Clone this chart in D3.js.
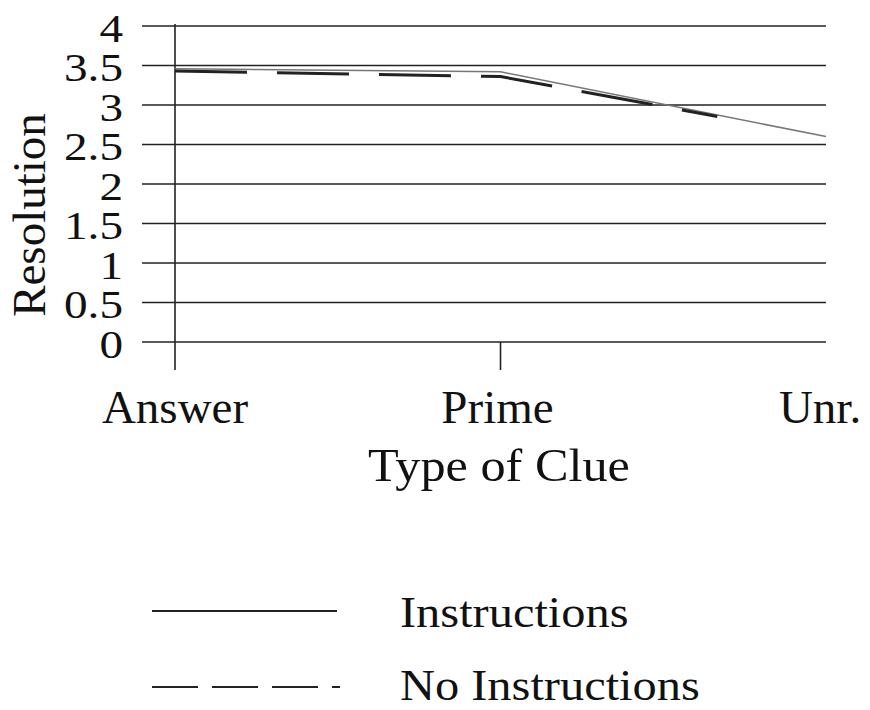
<!DOCTYPE html>
<html>
<head>
<meta charset="utf-8">
<script src="https://cdn.jsdelivr.net/npm/d3@7"></script>
<style>
  body { margin: 0; background: #fff; }
  text { font-family: "Liberation Serif", "Times New Roman", serif; fill: #111; }
</style>
</head>
<body>
<svg id="chart" width="870" height="710"></svg>
<script>
// categories and series
var clueTypes = ["Answer", "Prime", "Unr."];
var instructions = [3.46, 3.42, 2.6];
var noInstructions = [3.43, 3.36, 2.6];
var yTicks = [0, 0.5, 1, 1.5, 2, 2.5, 3, 3.5, 4];
var seriesNames = ["Instructions", "No Instructions"];

var svg = d3.select("#chart");

var x = d3.scalePoint()
  .domain(clueTypes)
  .range([175, 826]);

var y = d3.scaleLinear()
  .domain([0, 4])
  .range([342, 26]);

// the source picture is a bit wider than tall, so stretch text sideways
function stretched(sel, sx) {
  return function(px, py) { return "translate(" + px + "," + py + ") scale(" + sx + ",1)"; };
}

// gridlines
svg.append("g")
  .selectAll("line")
  .data(yTicks)
  .enter()
  .append("line")
  .attr("x1", 142)
  .attr("x2", 826)
  .attr("y1", function(d) { return y(d); })
  .attr("y2", function(d) { return y(d); })
  .style("stroke", "#222")
  .style("stroke-width", 1.6);

// y tick labels
var tickPos = stretched(null, 1.18);
svg.append("g")
  .selectAll("text")
  .data(yTicks)
  .enter()
  .append("text")
  .attr("transform", function(d) { return tickPos(123, y(d) + 1.5); })
  .attr("dy", "0.35em")
  .attr("text-anchor", "end")
  .style("font-size", "40px")
  .text(function(d) { return d; });

// y axis line + x ticks
svg.append("line")
  .attr("x1", x("Answer")).attr("x2", x("Answer"))
  .attr("y1", y(4) - 2).attr("y2", 370)
  .style("stroke", "#222").style("stroke-width", 1.6);

svg.append("line")
  .attr("x1", x("Prime")).attr("x2", x("Prime"))
  .attr("y1", y(0)).attr("y2", 370)
  .style("stroke", "#222").style("stroke-width", 1.6);

// x tick labels
svg.append("g")
  .selectAll("text")
  .data(clueTypes)
  .enter()
  .append("text")
  .attr("x", function(d, i) { return x(d) + [0, -3, -6][i]; })
  .attr("y", 423)
  .attr("text-anchor", "middle")
  .style("font-size", "47px")
  .text(function(d) { return d; });

// axis titles
var titlePos = stretched(null, 1.07);
svg.append("text")
  .attr("transform", titlePos(499, 481))
  .attr("text-anchor", "middle")
  .style("font-size", "47px")
  .text("Type of Clue");

svg.append("text")
  .attr("transform", "translate(45,215) rotate(-90)")
  .attr("text-anchor", "middle")
  .style("font-size", "47px")
  .text("Resolution");

var line = d3.line()
  .x(function(d, i) { return x(clueTypes[i]); })
  .y(function(d) { return y(d); });

// series
svg.append("path")
  .datum(instructions)
  .attr("d", line)
  .style("fill", "none")
  .style("stroke", "#777")
  .style("stroke-width", 1.5);

svg.append("path")
  .datum(noInstructions)
  .attr("d", line)
  .style("fill", "none")
  .style("stroke", "#222")
  .style("stroke-width", 3)
  .style("stroke-dasharray", "72 30 72 30 72 30 72 30 72 30 36 1000");

// legend
var legend = svg.append("g");
legend.selectAll("line")
  .data(seriesNames)
  .enter()
  .append("line")
  .attr("x1", 152)
  .attr("x2", function(d, i) { return i ? 340 : 337; })
  .attr("y1", function(d, i) { return 611 + i * 76; })
  .attr("y2", function(d, i) { return 611 + i * 76; })
  .style("stroke", "#222")
  .style("stroke-width", 2)
  .style("stroke-dasharray", function(d, i) { return i ? "46 14" : null; });

var legendPos = stretched(null, 1.1);
legend.selectAll("text")
  .data(seriesNames)
  .enter()
  .append("text")
  .attr("transform", function(d, i) { return legendPos(400, 627 + i * 73); })
  .style("font-size", "44px")
  .text(function(d) { return d; });
</script>
</body>
</html>
